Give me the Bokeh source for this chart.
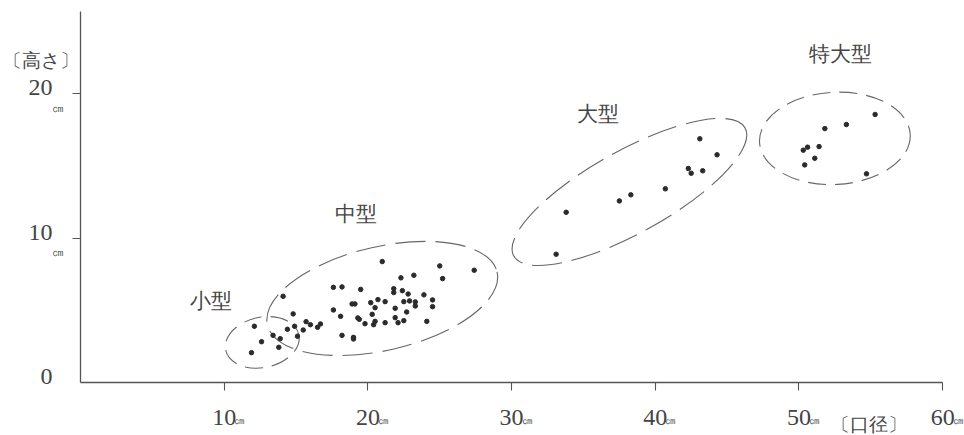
from bokeh.plotting import figure
from bokeh.models import Range1d, FixedTicker, ColumnDataSource, LabelSet
from bokeh.embed import file_html
from bokeh.resources import INLINE

# ---- data (diameter 口径 cm, height 高さ cm) ----
small_diam = [12.1, 13.4, 13.9, 12.6, 13.8, 11.9]
small_height = [3.88, 3.25, 3.02, 2.81, 2.42, 2.05]

medium_diam = [21.0, 25.0, 27.4, 25.2, 22.3, 23.2, 17.6, 18.2, 19.5, 21.8,
               21.8, 22.4, 22.8, 23.9, 14.1, 20.7, 21.2, 20.2, 18.9, 19.1,
               22.5, 22.9, 23.3, 23.3, 24.5, 24.5, 20.5, 21.9, 22.7, 17.6,
               20.3, 18.1, 19.3, 19.4, 19.8, 20.5, 20.4, 21.2, 21.9, 22.1,
               22.5, 24.1, 18.2, 19.0, 19.0, 14.8, 14.9, 14.4, 15.7, 16.0,
               15.5, 15.1, 16.5, 16.7]
medium_height = [8.37, 8.07, 7.77, 7.19, 7.24, 7.42, 6.58, 6.61, 6.44, 6.49,
                 6.22, 6.35, 6.12, 6.06, 5.96, 5.73, 5.59, 5.52, 5.43, 5.43,
                 5.59, 5.64, 5.57, 5.29, 5.71, 5.24, 5.17, 5.13, 4.87, 5.01,
                 4.71, 4.57, 4.46, 4.36, 4.06, 4.22, 3.99, 4.13, 4.48, 4.13,
                 4.27, 4.22, 3.25, 3.11, 3.00, 4.74, 3.88, 3.67, 4.20, 3.99,
                 3.62, 3.19, 3.81, 4.04]

large_diam = [43.1, 44.3, 42.3, 42.5, 43.3, 40.7, 38.3, 37.5, 33.8, 33.1]
large_height = [16.89, 15.78, 14.83, 14.50, 14.67, 13.42, 13.00, 12.58, 11.79, 8.88]

xlarge_diam = [55.3, 53.3, 51.8, 51.4, 50.6, 50.3, 51.1, 50.4, 54.7]
xlarge_height = [18.58, 17.88, 17.60, 16.35, 16.31, 16.10, 15.54, 15.08, 14.46]

x_ticks = [10, 20, 30, 40, 50, 60]
x_tick_labels = ["10", "20", "30", "40", "50", "60"]
y_ticks = [10, 20]
y_label_values = [0, 10, 20]
y_tick_labels = ["0", "10", "20"]
unit_label = "㎝"

x_max = 60
y_max = 25.7

group_names = ["小型", "中型", "大型", "特大型"]
group_label_x = [9.1, 19.2, 36.0, 52.9]
group_label_y = [5.6, 11.7, 18.6, 22.8]

# outline ellipses of the four groups (data units)
ell_x = [12.65, 21.0, 38.2, 52.5]
ell_y = [2.76, 5.81, 13.2, 16.92]
ell_w = [5.2, 16.4, 18.4, 10.5]
ell_h = [3.5, 7.2, 5.73, 6.4]
ell_angle = [12, 13, 29, 3]

y_title = "〔高さ〕"
x_title = "〔口径〕"
title_x = [-2.73, 54.9]
title_y = [22.32, -2.94]

digit_font = "Liberation Serif"
cjk_font = "Noto Sans CJK JP"
txt_col = "#444444"
ax_col = "#555555"

# ---- figure: frame covers the canvas, axes cross at the origin ----
p = figure(width=964, height=435,
           x_range=Range1d(-5.567, 61.52), y_range=Range1d(-3.70, 26.21),
           x_axis_location="above", y_axis_location="right",
           output_backend="svg", toolbar_location=None,
           min_border=0, min_border_top=4, min_border_right=0)
p.outline_line_color = None
p.grid.visible = False
p.background_fill_color = "white"
p.border_fill_color = "white"

xa = p.xaxis[0]
ya = p.yaxis[0]
xa.fixed_location = 0
ya.fixed_location = 0
xa.bounds = (0, x_max)
ya.bounds = (0, y_max)
xa.ticker = FixedTicker(ticks=x_ticks)
ya.ticker = FixedTicker(ticks=y_ticks)
xa.major_label_overrides = {t: "" for t in x_ticks}
ya.major_label_overrides = {t: "" for t in y_ticks}
for ax in (xa, ya):
    ax.axis_line_color = ax_col
    ax.axis_line_width = 1.3
    ax.major_tick_line_color = ax_col
    ax.major_tick_line_width = 1.1
    ax.major_tick_in = 8
    ax.major_tick_out = 0
    ax.minor_tick_in = 0
    ax.minor_tick_out = 0
    ax.major_label_standoff = 0
    ax.major_label_text_font_size = "1px"

# ellipses
long_idx = [1, 2]
short_idx = [0, 3]
p.ellipse(x=[ell_x[i] for i in long_idx], y=[ell_y[i] for i in long_idx],
          width=[ell_w[i] for i in long_idx], height=[ell_h[i] for i in long_idx],
          angle=[ell_angle[i] for i in long_idx], angle_units="deg",
          fill_color=None, line_color="#666666", line_width=1.1, line_dash="30 10")
p.ellipse(x=[ell_x[i] for i in short_idx], y=[ell_y[i] for i in short_idx],
          width=[ell_w[i] for i in short_idx], height=[ell_h[i] for i in short_idx],
          angle=[ell_angle[i] for i in short_idx], angle_units="deg",
          fill_color=None, line_color="#666666", line_width=1.1, line_dash="18 9")

# points
for xs, ys in ((small_diam, small_height), (medium_diam, medium_height),
               (large_diam, large_height), (xlarge_diam, xlarge_height)):
    p.scatter(xs, ys, size=4.5, color="#2b2b2b")

# x tick numbers and units
xsrc = ColumnDataSource(dict(x=x_ticks, y=[0] * len(x_ticks), text=x_tick_labels,
                             u=[unit_label] * len(x_ticks)))
p.add_layout(LabelSet(x="x", y="y", text="text", source=xsrc, text_align="center",
                      text_baseline="middle", y_offset=-35, text_font=digit_font,
                      text_font_size="24px", text_color=txt_col))
p.add_layout(LabelSet(x="x", y="y", text="u", source=xsrc, text_align="left",
                      text_baseline="middle", x_offset=10, y_offset=-38, text_font=cjk_font,
                      text_font_size="11px", text_color=txt_col))

# y tick numbers and units
ysrc = ColumnDataSource(dict(x=[0] * len(y_label_values), y=y_label_values, text=y_tick_labels))
p.add_layout(LabelSet(x="x", y="y", text="text", source=ysrc, text_align="right",
                      text_baseline="alphabetic", x_offset=-28, y_offset=-1.5,
                      text_font=digit_font, text_font_size="24px", text_color=txt_col))
yusrc = ColumnDataSource(dict(x=[0] * len(y_ticks), y=y_ticks, u=[unit_label] * len(y_ticks)))
p.add_layout(LabelSet(x="x", y="y", text="u", source=yusrc, text_align="left",
                      text_baseline="middle", x_offset=-28, y_offset=-14,
                      text_font=cjk_font, text_font_size="12px", text_color=txt_col))

# group labels
gsrc = ColumnDataSource(dict(x=group_label_x, y=group_label_y, text=group_names))
p.add_layout(LabelSet(x="x", y="y", text="text", source=gsrc, text_align="center",
                      text_baseline="middle", text_font=cjk_font, text_font_size="21px",
                      text_color=txt_col))

# axis titles
tsrc = ColumnDataSource(dict(x=title_x, y=title_y, text=[y_title, x_title]))
p.add_layout(LabelSet(x="x", y="y", text="text", source=tsrc, text_align="center",
                      text_baseline="middle", text_font=cjk_font, text_font_size="19px",
                      text_color=txt_col))

open("out.html", "w").write(file_html(p, INLINE))
